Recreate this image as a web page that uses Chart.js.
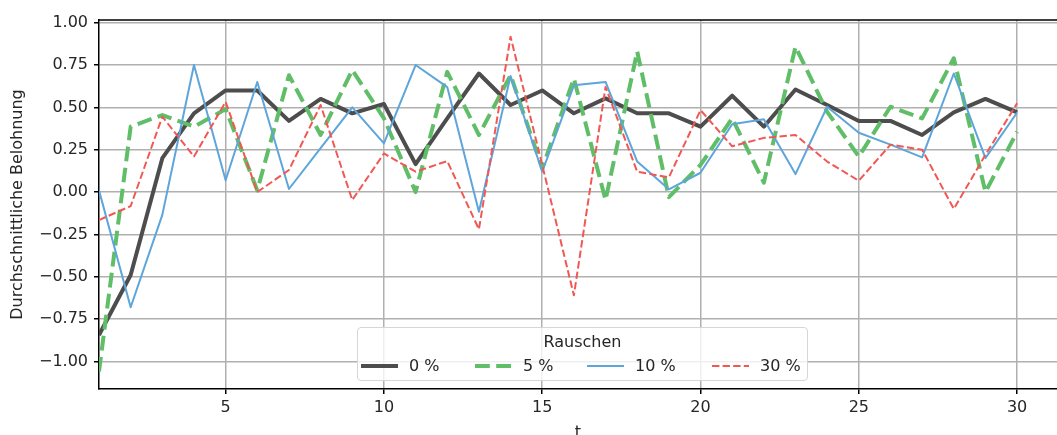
<!DOCTYPE html>
<html>
<head>
<meta charset="utf-8">
<script src="https://cdn.jsdelivr.net/npm/chart.js@4"></script>
<style>
  html, body { margin: 0; padding: 0; background: #fff; }
  #wrap { position: relative; width: 1057px; height: 435px; overflow: hidden; }
  #legend {
    position: absolute; left: 357px; top: 327px; width: 451px; height: 54px;
    box-sizing: border-box; border: 1px solid #d6d6d6; border-radius: 4px;
    background: rgba(255,255,255,0.8);
    font-family: 'DejaVu Sans', sans-serif; font-size: 16px; color: #262626;
  }
  #legend .title { position: absolute; left: 0; right: 0; top: 4px; text-align: center; line-height: 19px; }
  #legend .item { position: absolute; top: 28px; height: 19px; line-height: 19px; display: flex; align-items: center; }
  #legend svg { margin-right: 11px; }
</style>
</head>
<body>
<div id="wrap">
  <canvas id="chart" width="1057" height="435"></canvas>
  <div id="legend"></div>
</div>
<script>
const tValues = [1, 2, 3, 4, 5, 6, 7, 8, 9, 10, 11, 12, 13, 14, 15, 16, 17, 18, 19, 20, 21, 22, 23, 24, 25, 26, 27, 28, 29, 30];
const noise0 = [-0.845, -0.49, 0.20, 0.465, 0.60, 0.60, 0.42, 0.55, 0.465, 0.52, 0.165, 0.435, 0.70, 0.514, 0.60, 0.465, 0.553, 0.465, 0.465, 0.386, 0.569, 0.386, 0.606, 0.514, 0.42, 0.42, 0.337, 0.47, 0.55, 0.47];
const noise5 = [-1.06, 0.386, 0.455, 0.386, 0.49, 0.01, 0.69, 0.337, 0.72, 0.435, 0.0, 0.71, 0.337, 0.69, 0.14, 0.67, -0.047, 0.83, -0.03, 0.16, 0.435, 0.055, 0.858, 0.474, 0.21, 0.504, 0.435, 0.79, 0.0, 0.356];
const noise10 = [0.01, -0.68, -0.135, 0.75, 0.07, 0.65, 0.018, 0.26, 0.5, 0.287, 0.75, 0.62, -0.116, 0.685, 0.12, 0.63, 0.65, 0.18, 0.016, 0.114, 0.40, 0.43, 0.106, 0.504, 0.35, 0.28, 0.205, 0.70, 0.2, 0.47];
const noise30 = [-0.165, -0.083, 0.445, 0.21, 0.533, 0.0, 0.13, 0.514, -0.047, 0.228, 0.12, 0.183, -0.22, 0.917, 0.16, -0.61, 0.62, 0.12, 0.087, 0.484, 0.27, 0.32, 0.337, 0.18, 0.067, 0.28, 0.25, -0.10, 0.22, 0.524];
const seriesLabels = ['0 %', '5 %', '10 %', '30 %'];
const xTicks = [5, 10, 15, 20, 25, 30];
const yTicks = [-1.0, -0.75, -0.5, -0.25, 0.0, 0.25, 0.5, 0.75, 1.0];

const font = { family: 'DejaVu Sans', size: 16 };
const toPoints = (arr) => arr.map((y, i) => ({ x: tValues[i], y: y }));

const styles = [
  { color: '#4D4D4D', width: 4, dash: [] },
  { color: '#60BD68', width: 4, dash: [14.8, 6.4] },
  { color: '#5DA5DA', width: 2, dash: [] },
  { color: '#F15854', width: 2, dash: [7.4, 3.2] },
];
const allSeries = [noise0, noise5, noise10, noise30];

// top spine
const frame = {
  id: 'frame',
  afterDraw(chart) {
    const { ctx, chartArea } = chart;
    ctx.save();
    ctx.strokeStyle = '#000';
    ctx.lineWidth = 1.5;
    ctx.beginPath();
    ctx.moveTo(chartArea.left, chartArea.top);
    ctx.lineTo(chartArea.right, chartArea.top);
    ctx.stroke();
    ctx.restore();
  },
};

new Chart(document.getElementById('chart'), {
  type: 'line',
  data: {
    datasets: allSeries.map((s, i) => ({
      label: seriesLabels[i],
      data: toPoints(s),
      borderColor: styles[i].color,
      borderWidth: styles[i].width,
      borderDash: styles[i].dash,
      borderJoinStyle: 'round',
      pointRadius: 0,
      tension: 0,
      fill: false,
      order: 4 - i,
    })),
  },
  options: {
    responsive: false,
    animation: false,
    devicePixelRatio: 1,
    layout: { padding: { top: 20, right: 0, left: 0, bottom: 0 } },
    plugins: { legend: { display: false }, tooltip: { enabled: false } },
    scales: {
      x: {
        type: 'linear',
        min: 1,
        max: 31.26,
        afterBuildTicks: (scale) => { scale.ticks = xTicks.map((v) => ({ value: v })); },
        afterFit: (scale) => { scale.height = 46; },
        grid: { color: '#b0b0b0', lineWidth: 1.5, tickLength: 5, tickColor: '#000' },
        border: { color: '#000', width: 1.5 },
        ticks: { font: font, color: '#262626', padding: 4, maxRotation: 0 },
        title: { display: true, text: 't', font: { family: 'DejaVu Sans', size: 16, lineHeight: 1 }, color: '#262626', padding: { top: 0, bottom: -6 } },
      },
      y: {
        min: -1.163,
        max: 1.016,
        afterBuildTicks: (scale) => { scale.ticks = yTicks.map((v) => ({ value: v })); },
        afterFit: (scale) => { scale.width = 99; },
        grid: { color: '#b0b0b0', lineWidth: 1.5, tickLength: 5, tickColor: '#000' },
        border: { color: '#000', width: 1.5 },
        ticks: {
          font: font,
          color: '#262626',
          padding: 6,
          callback: (v) => v.toFixed(2).replace('-', '\u2212'),
        },
        title: { display: true, text: 'Durchschnittliche Belohnung', font: font, color: '#262626', padding: { top: 8, bottom: 0 } },
      },
    },
  },
  plugins: [frame],
});

// legend inside the plot, like matplotlib's
const legendEl = document.getElementById('legend');
const itemLeft = [3, 117, 229, 354];
let html = '<div class="title">Rauschen</div>';
seriesLabels.forEach((label, i) => {
  const st = styles[i];
  html += `<div class="item" style="left:${itemLeft[i]}px">
    <svg width="37" height="10"><line x1="0" y1="5" x2="37" y2="5" stroke="${st.color}" stroke-width="${st.width}" stroke-dasharray="${st.dash.join(' ')}"/></svg>
    <span>${label}</span></div>`;
});
legendEl.innerHTML = html;
</script>
</body>
</html>
